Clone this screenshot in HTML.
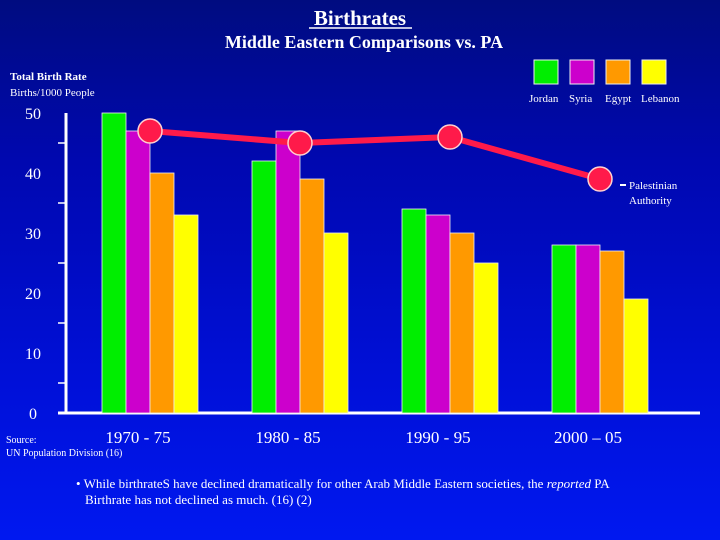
<!DOCTYPE html>
<html><head><meta charset="utf-8"><style>
html,body{margin:0;padding:0;background:#0018f0}
body{width:720px;height:540px;overflow:hidden;background:linear-gradient(180deg,#000c80 0%,#0008b0 30%,#0010d8 70%,#0018f0 100%);font-family:"Liberation Serif",serif;color:#fff}
svg{display:block}
</style></head><body>
<svg id="chart" width="720" height="540" font-family="Liberation Serif, serif" fill="#fff">
<text x="360" y="25" text-anchor="middle" font-size="21" font-weight="bold">Birthrates</text>
<line x1="309" y1="28" x2="412" y2="28" stroke="#fff" stroke-width="1.5"/>
<text x="364" y="48" text-anchor="middle" font-size="18" font-weight="bold">Middle Eastern Comparisons vs. PA</text>
<text x="10" y="80" font-size="11" font-weight="bold">Total Birth Rate</text>
<text x="10" y="96" font-size="11">Births/1000 People</text>
<g id="axes"></g>
<g id="bars"></g>
<g id="line"></g>
<g id="legend"></g>
<text x="629" y="189" font-size="11">Palestinian</text>
<text x="629" y="204" font-size="11">Authority</text>
<line x1="620" y1="185" x2="626" y2="185" stroke="#fff" stroke-width="2"/>
<text x="6" y="443" font-size="10">Source:</text>
<text x="6" y="456" font-size="10">UN Population Division (16)</text>
<text x="76" y="488" font-size="13">• While birthrateS have declined dramatically for other Arab Middle Eastern societies, the <tspan font-style="italic">reported</tspan> PA</text>
<text x="85" y="504" font-size="13">Birthrate has not declined as much.  (16) (2)</text>
</svg>
<script>
const categories=["1970 - 75","1980 - 85","1990 - 95","2000 – 05"];
const seriesNames=["Jordan","Syria","Egypt","Lebanon"];
const jordan=[50,42,34,28];
const syria=[47,47,33,28];
const egypt=[40,39,30,27];
const lebanon=[33,30,25,19];
const pa=[47,45,46,39];
const yTicks=[0,10,20,30,40,50];
const colors=["#00ee00","#cc00cc","#ff9900","#ffff00"];
const NS="http://www.w3.org/2000/svg";
const y=v=>413-v*6;
const gx=i=>102+i*150;
function mk(t,a,p){const e=document.createElementNS(NS,t);for(const k in a)e.setAttribute(k,a[k]);document.getElementById(p).appendChild(e);return e;}
let e=mk("line",{x1:66,y1:113,x2:66,y2:414,stroke:"#fff","stroke-width":3},"axes");


e=mk("line",{x1:58,y1:413,x2:700,y2:413,stroke:"#fff","stroke-width":3},"axes");


yTicks.forEach(v=>{
 const t=mk("text",{x:33,y:y(v)+6,"text-anchor":"middle","font-size":16},"axes");t.textContent=v;
 
 
 if(v<50){const m=mk("line",{x1:58,y1:y(v+5),x2:66,y2:y(v+5),stroke:"#fff","stroke-width":1.5},"axes");
 
 }
});
categories.forEach((c,i)=>{
 const t=mk("text",{x:gx(i)+36,y:443,"text-anchor":"middle","font-size":17},"axes");t.textContent=c;
 
 
});
[jordan,syria,egypt,lebanon].forEach((s,k)=>{
 s.forEach((v,i)=>{
  const r=mk("rect",{x:gx(i)+k*24,y:y(v),width:24,height:413-y(v),fill:colors[k],stroke:"#eee","stroke-width":0.8},"bars");
  
  
 });
});
const pl=mk("polyline",{points:pa.map((v,i)=>(gx(i)+48)+","+y(v)).join(" "),fill:"none",stroke:"#ff1a4a","stroke-width":6},"line");


pa.forEach((v,i)=>{
 const c=mk("circle",{cx:gx(i)+48,cy:y(v),r:12,fill:"#ff1a4a",stroke:"#ffd0d0","stroke-width":1.5},"line");
 
 
});
const lx=[534,570,606,642],ln=[529,569,605,641];
seriesNames.forEach((n,k)=>{
 const r=mk("rect",{x:lx[k],y:60,width:24,height:24,fill:colors[k],stroke:"#eee","stroke-width":1},"legend");
 
 
 const t=mk("text",{x:ln[k],y:102,"font-size":11},"legend");t.textContent=n;
 
 
});
</script>
</body></html>
